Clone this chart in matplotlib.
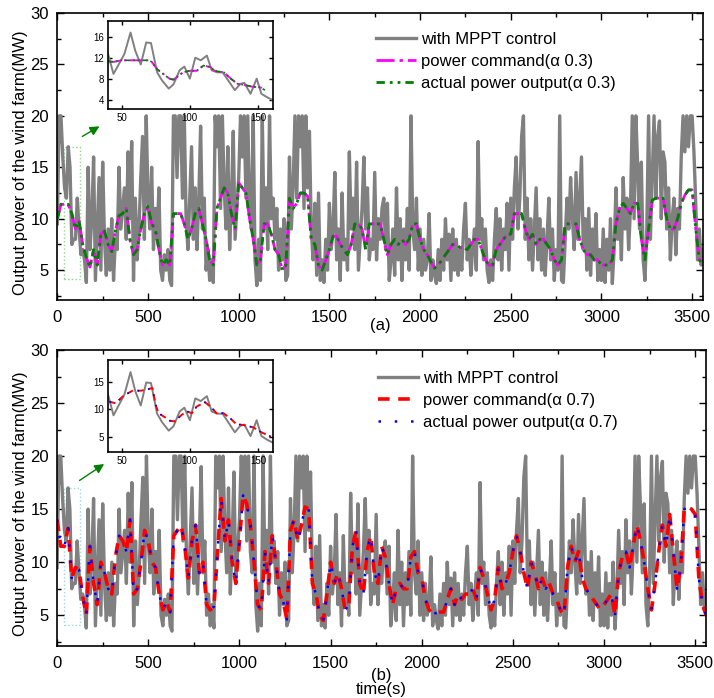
import numpy as np
import matplotlib
matplotlib.use('Agg')
import matplotlib.pyplot as plt
from matplotlib.patches import Rectangle
from matplotlib.ticker import MultipleLocator

plt.rcParams['font.family'] = ['Liberation Sans', 'DejaVu Sans']

# wind farm output with MPPT control, one reading every 10 s (0 ... 3560 s)
mppt = [
    9.5, 20, 20, 16, 13, 12, 17, 15, 7.5, 8, 8, 12, 9, 6.5, 7, 6, 3.8, 15, 7, 10,
    16, 4, 9, 14, 5, 15.5, 8, 4.5, 9, 5, 10, 4, 8, 7, 15, 9, 11, 13, 8, 16.5,
    10, 17.5, 4, 12, 6, 9, 14, 18, 8, 20, 12, 9, 15, 7, 11, 8, 13, 5, 4, 6.5,
    5, 7, 4, 3.5, 20, 20, 14, 20, 20, 12, 20, 10, 7, 12, 17, 8, 13, 7, 12, 19,
    9, 12, 5, 7, 4, 6, 3.8, 20, 17, 20, 11, 20, 13, 9, 17, 7, 12, 18.5, 8, 11,
    14, 20, 16, 20, 12, 20, 11, 9, 20, 6, 3.5, 8, 4, 20, 9, 13, 7, 20, 10, 12,
    8, 11, 5, 9, 6, 10, 4, 4.5, 16, 9, 13, 20, 12, 20, 17, 20, 11, 20, 13, 18.5,
    9, 6, 11.5, 4.5, 12.5, 4, 6, 3.8, 8, 5, 11.5, 7, 9, 14.5, 6, 9, 4, 12.5, 6, 8,
    5, 16.5, 9, 12, 7, 15.5, 5, 8, 11, 16, 9, 13, 6, 8, 7, 14.5, 6, 10, 8, 11,
    12, 7, 11.5, 4, 6, 9, 4.5, 13, 6, 10, 4, 9, 6, 11, 5, 20, 9, 7, 12, 5,
    9, 4.5, 8, 5, 6, 10.5, 4, 6, 4.5, 3.7, 7, 4, 8, 5, 10, 6, 8.5, 4, 9, 5,
    8, 4.5, 7, 5, 9, 11.5, 6, 8, 4.5, 7, 9, 5, 17.5, 8, 10, 6, 9, 5, 3.8, 6,
    4, 8, 11, 6, 10, 5, 9, 7, 11.5, 5, 12, 8, 13, 16, 9, 12, 18, 20, 8, 12,
    6, 10, 5, 9, 13, 6, 10, 5, 9, 4.5, 8, 12, 6, 9, 4, 7, 5, 20, 4, 3.8,
    8, 12, 9, 14, 10, 7, 14.5, 8, 12, 16, 7, 10, 5, 11, 4.5, 9, 6, 10.5, 4, 7,
    4, 9, 3.8, 8, 5, 10, 3.7, 7, 13, 8, 11, 6, 14, 9, 12, 7, 11, 20, 10, 20,
    15, 9, 15.5, 6, 4, 9, 20, 8, 14, 20, 12, 18, 19.5, 10, 16.5, 15.5, 9, 13, 6, 10,
    12, 6.5, 11, 9, 16, 20, 16.5, 20, 17, 20, 20, 16.5, 11.5, 6, 9, 5.5, 7,
]

# power command, one reading every 20 s (0 ... 3560 s)
cmd_03 = [
    10, 11.4, 11.4, 11.4, 10.5, 9, 9.8, 7.5, 6.2, 5.3,
    7, 5.5, 8.5, 8.8, 7.5, 6.8, 8.8, 10.3, 10.5, 11,
    8, 6.5, 7, 9, 10.5, 11.2, 9.5, 9, 7, 5.5,
    6, 5.5, 10.5, 10.5, 10.5, 9.5, 8, 9, 10.5, 11,
    9.5, 8, 6, 5.5, 11, 12, 13, 12.5, 10.5, 9,
    13.5, 13, 12.5, 10, 8, 5.5, 6, 9.5, 9.5, 8.5,
    7, 6.5, 5, 5.5, 12, 11, 11.5, 12.5, 12.5, 12.2,
    8, 7.5, 5.5, 5, 6, 7, 8.3, 8.3, 7.5, 7,
    6.5, 7.5, 9.5, 9.5, 9, 7, 9.5, 9.5, 9.5, 9.5,
    8, 6.5, 7.5, 8, 7.5, 8, 7.5, 8, 9.5, 9.5,
    8, 7, 6.5, 5.8, 5.2, 5.5, 6, 6.5, 7, 7.5,
    7.5, 7.2, 7.2, 7, 7.5, 8, 8, 7, 6, 5.5,
    5.5, 7, 7.5, 8, 8.5, 8.5, 10.5, 10.5, 10.5, 9,
    8, 8.5, 7.5, 8, 8, 7.5, 7, 6, 5.5, 6,
    9.5, 9.5, 9.5, 9.5, 8, 7, 6.5, 6.5, 6, 6,
    5.5, 5.5, 5.5, 6, 9.5, 11, 11.5, 11, 10.5, 11.5,
    11.5, 8, 6, 9, 11.8, 12, 12, 12, 10, 9,
    9, 10, 11.5, 12.3, 12.8, 12.8, 9, 6, 5.5,
]
cmd_07 = [
    14, 11.5, 11.5, 13.2, 8.5, 9.5, 9.3, 6.8, 5, 11.5,
    8, 6, 10, 9, 7.5, 7, 10.5, 12.5, 12, 11,
    14, 7, 7.5, 10, 13, 12, 10, 9.5, 7, 5.5,
    6.3, 5.3, 12.5, 13, 13.5, 11.5, 8.5, 12, 13.5, 9,
    10, 6, 5.5, 5.8, 11, 16, 12, 14, 10, 8,
    12, 16.3, 15.5, 13.5, 10, 6, 5.5, 11, 8, 12.5,
    10, 7, 6.3, 4.6, 13, 14, 12, 13.5, 15.2, 15,
    8, 7, 5, 4.5, 7, 10, 8, 9, 7.5, 5.5,
    6, 11.5, 13, 8, 7, 11, 12.5, 9, 8, 11.5,
    10.5, 8, 6, 7.5, 8, 7.5, 7.5, 10.5, 11, 9,
    8.5, 6.5, 5.5, 5.2, 5.2, 5.3, 5.3, 6.5, 7.5, 6,
    7, 6.5, 7, 7, 7.5, 6.5, 9.5, 8.5, 7, 5.5,
    6.5, 9.5, 7.5, 8, 9, 11, 12.5, 11, 9, 7.5,
    10, 9, 7.5, 8.5, 7.5, 8, 7, 6.5, 5.5, 5,
    9.5, 11.5, 10, 11, 8.5, 7.5, 7, 6.5, 6, 5.5,
    6, 6.5, 7, 5, 9, 10.5, 11, 9.5, 11.5, 13.5,
    12, 10, 7.5, 5.5, 8, 11, 13.5, 11.5, 14.5, 11,
    7.5, 9.5, 15, 15.2, 15, 14.5, 8.5, 6, 5,
]
# actual output follows the command so closely that it reads the same
act_03 = cmd_03
act_07 = cmd_07

# zoomed windows (40-160 s)
t_zoom = [40, 44, 52, 56.5, 60, 64, 68, 71.5, 76, 79.5, 84.5, 88, 92.5, 96,
          100, 104, 108, 112.5, 116, 120, 124, 128, 133, 137, 140, 144.5,
          149, 152.5, 157, 161]
mppt_zoom = [12.7, 8.9, 12.7, 16.8, 13.3, 10.7, 14.9, 14.8, 9.2, 7.7, 6.1, 6.9,
             9.6, 10.3, 8.0, 12.0, 11.5, 12.4, 9.6, 9.2, 9.2, 7.7, 5.8, 7.0,
             7.2, 5.1, 8.0, 5.1, 4.4, 3.9]
t_cmd_zoom_03 = [40, 44, 50, 60, 70, 72, 76, 80, 85, 88, 95, 100, 105, 110,
                 115, 118, 125, 130, 135, 140, 145, 152, 155]
cmd_zoom_03 = [11.3, 11.2, 11.5, 11.5, 11.5, 11.2, 9.8, 9.0, 8.0, 7.8, 9.2,
               9.5, 9.5, 10.5, 10.2, 9.5, 9.2, 8.0, 7.0, 6.8, 6.5, 6.3, 5.8]
t_cmd_zoom_07 = [41, 45.5, 51.5, 58, 64, 68.5, 72.5, 75, 77, 82, 85.5, 89,
                 94, 98, 101.5, 105, 111, 116, 119.5, 124.5, 129.5, 134,
                 140, 146.5, 152.5, 159.5]
cmd_zoom_07 = [11.4, 11.1, 12.5, 13.4, 13.4, 13.6, 13.9, 10.8, 9.3, 8.5, 7.9,
               7.8, 9.0, 9.6, 9.3, 10.5, 11.3, 10.3, 9.3, 9.3, 8.4, 7.3, 7.1,
               6.7, 5.8, 5.0]

t10 = np.arange(len(mppt)) * 10
t20 = np.arange(len(cmd_03)) * 20

grey = '#808080'
fig = plt.figure(figsize=(7.14, 6.98), dpi=100)


def style(ax, fs=12, major=5, minor=3, xpad=7, ypad=6):
    ax.tick_params(which='both', direction='in', top=True, right=True,
                   labelsize=fs, width=1)
    ax.tick_params(which='major', length=major)
    ax.tick_params(which='minor', length=minor)
    ax.tick_params(axis='x', pad=xpad)
    ax.tick_params(axis='y', pad=ypad)
    for s in ax.spines.values():
        s.set_linewidth(1.2)


panels = [
    dict(rect=[0.0803, 0.5702, 0.9043, 0.4112], inset=[0.1513, 0.8438, 0.2311, 0.1261],
         cmd=cmd_03, act=act_03, tz=t_cmd_zoom_03, cz=cmd_zoom_03,
         c1='#ff00ff', d1=(6.5, 1.8, 1.2, 1.8), w1=2.0,
         c2='#008000', d2=(3, 1.8, 1, 1.8, 1, 1.8), w2=2.0,
         l1=u'power command(\u03b1 0.3)', l2=u'actual power output(\u03b1 0.3)',
         yt=[4, 8, 12, 16], tag='(a)', tagy=-0.09, legy=0.935, box='#90d890',
         arr=((0.035, 0.565), (0.069, 0.61))),
    dict(rect=[0.0800, 0.0745, 0.9090, 0.4241], inset=[0.1513, 0.3524, 0.2311, 0.1318],
         cmd=cmd_07, act=act_07, tz=t_cmd_zoom_07, cz=cmd_zoom_07,
         c1='#ff0000', d1=(3.2, 2.4), w1=2.6,
         c2='#0000ff', d2=(1, 5.5), w2=1.8,
         l1=u'power command(\u03b1 0.7)', l2=u'actual power output(\u03b1 0.7)',
         yt=[5, 10, 15], tag='(b)', tagy=-0.10, legy=0.93, box='#a0d8d8',
         arr=((0.031, 0.554), (0.076, 0.62))),
]

for i, p in enumerate(panels):
    ax = fig.add_axes(p['rect'])
    ax.plot(t10, mppt, color=grey, lw=2.4, label='with MPPT control')
    ax.plot(t20, p['cmd'], color=p['c1'], lw=p['w1'], dashes=p['d1'], label=p['l1'])
    ax.plot(t20, p['act'], color=p['c2'], lw=p['w2'], dashes=p['d2'], label=p['l2'])
    ax.set_xlim(0, 3560)
    ax.set_ylim(2.1, 30)
    ax.xaxis.set_major_locator(MultipleLocator(500))
    ax.xaxis.set_minor_locator(MultipleLocator(250))
    ax.yaxis.set_major_locator(MultipleLocator(5))
    ax.yaxis.set_minor_locator(MultipleLocator(2.5))
    style(ax)
    ax.set_ylabel('Output power of the wind farm(MW)', fontsize=12)
    ax.yaxis.set_label_coords(-0.045, 0.48)
    ax.legend(loc='upper left', bbox_to_anchor=(0.494, p['legy']), frameon=False,
              fontsize=12, handlelength=2.4, handletextpad=0.3, labelspacing=0.42,
              borderaxespad=0, borderpad=0)
    ax.text(0.5, p['tagy'], p['tag'], transform=ax.transAxes, fontsize=12,
            ha='center', va='center')
    ax.add_patch(Rectangle((37, 4.1), 88, 12.9, fill=False, ls=':', lw=1,
                           ec=p['box']))
    ax.annotate('', xy=p['arr'][1], xytext=p['arr'][0],
                xycoords='axes fraction',
                arrowprops=dict(arrowstyle='-|>', color='#008000', lw=1,
                                mutation_scale=14))
    if i == 1:
        ax.text(0.5, -0.147, 'time(s)', transform=ax.transAxes, fontsize=12,
                ha='center', va='center')

    ins = fig.add_axes(p['inset'])
    ins.plot(t_zoom, mppt_zoom, color=grey, lw=1.4)
    ins.plot(p['tz'], p['cz'], color=p['c1'], lw=1.4, dashes=p['d1'])
    ins.plot(p['tz'], p['cz'], color=p['c2'], lw=1.2, dashes=p['d2'])
    ins.set_xlim(40, 161)
    ins.set_ylim(2.2, 19)
    ins.set_xticks([50, 100, 150])
    ins.set_yticks(p['yt'])
    style(ins, fs=7, major=3, minor=1.5, xpad=3, ypad=3)

fig.savefig('out.png', dpi=100)
